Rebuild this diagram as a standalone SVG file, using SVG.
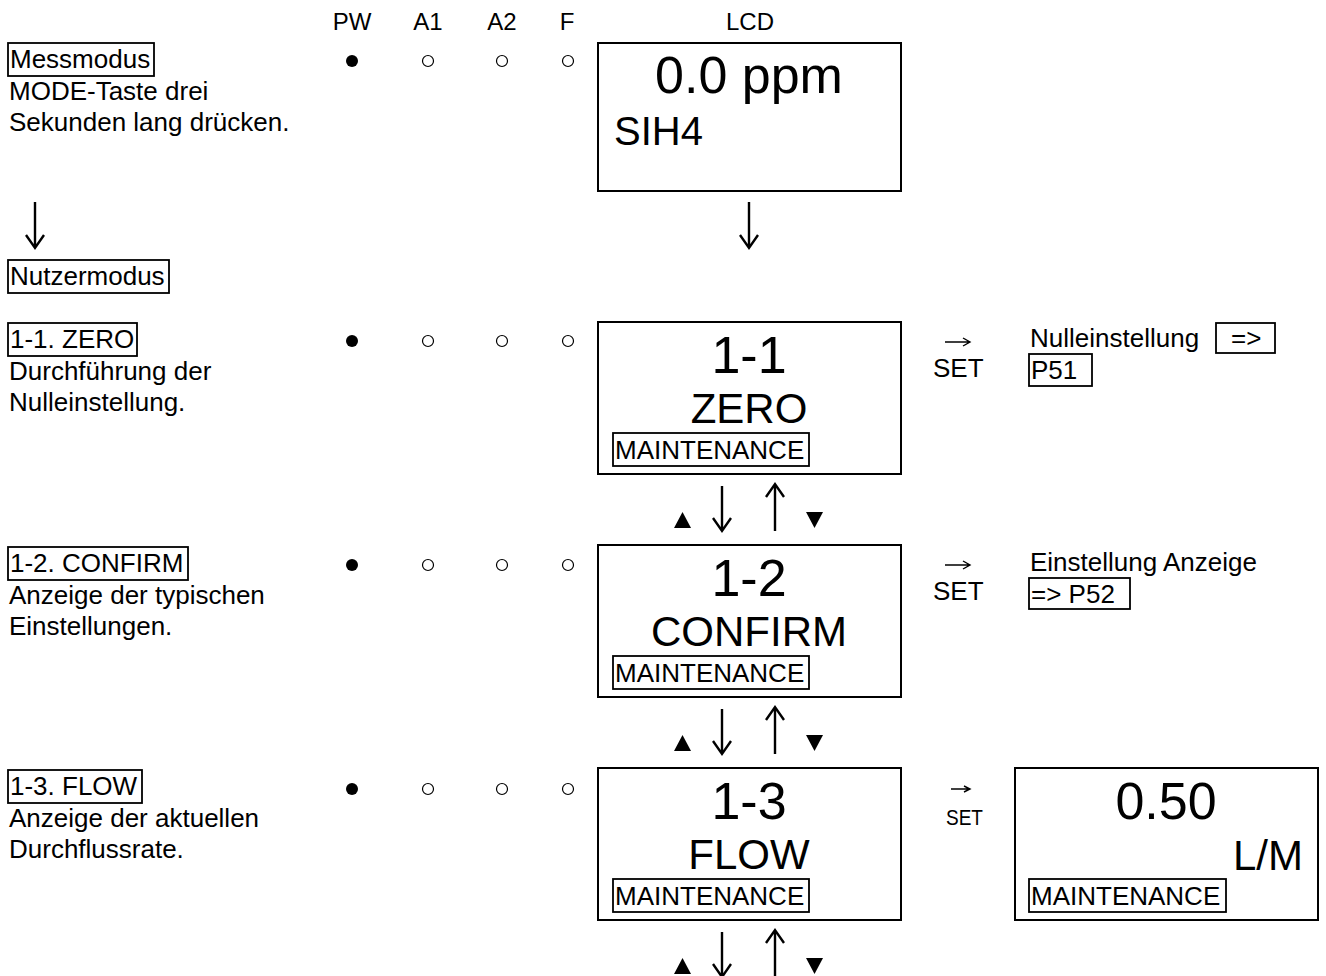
<svg xmlns="http://www.w3.org/2000/svg" width="1326" height="976" viewBox="0 0 1326 976">
<style>
text{font-family:"Liberation Sans",Arial,sans-serif;fill:#000}
.t{font-size:26px}
.h{font-size:24px;text-anchor:middle}
.big{font-size:52px;text-anchor:middle}
.mid{font-size:42px;text-anchor:middle}
.lcd{fill:#fff;stroke:#000;stroke-width:2}
.lb{fill:none;stroke:#000;stroke-width:1.8}
.arr{fill:none;stroke:#000;stroke-width:2.4}
.sarr{fill:none;stroke:#000;stroke-width:1.4}
.on{fill:#000}
.off{fill:none;stroke:#000;stroke-width:1.2}
</style>
<rect width="1326" height="976" fill="#fff"/>
<g id="header">
<text class="h" x="352" y="30">PW</text>
<text class="h" x="428" y="30">A1</text>
<text class="h" x="502" y="30">A2</text>
<text class="h" x="567" y="30">F</text>
<text class="h" x="750" y="30">LCD</text>
</g>
<g id="messmodus">
<rect class="lb" x="8" y="43" width="146" height="33"/>
<text class="t" x="10" y="68">Messmodus</text>
<text class="t" x="9" y="100">MODE-Taste drei</text>
<text class="t" x="9" y="131">Sekunden lang drücken.</text>
<circle class="on" cx="352" cy="61" r="6"/>
<circle class="off" cx="428" cy="61" r="5.5"/>
<circle class="off" cx="502" cy="61" r="5.5"/>
<circle class="off" cx="568" cy="61" r="5.5"/>
</g>
<g id="lcd-measure">
<rect class="lcd" x="598" y="43" width="303" height="148"/>
<text class="big" x="749" y="93">0.0 ppm</text>
<text x="614" y="145" style="font-size:40px">SIH4</text>
</g>
<g id="nutzermodus">
<rect class="lb" x="8" y="260" width="161" height="33"/>
<text class="t" x="10" y="285">Nutzermodus</text>
</g>
<g id="row-1-1">
<rect class="lb" x="8" y="323" width="129" height="33"/>
<text class="t" x="10" y="348">1-1. ZERO</text>
<text class="t" x="9" y="380">Durchführung der</text>
<text class="t" x="9" y="411">Nulleinstellung.</text>
<circle class="on" cx="352" cy="341" r="6"/>
<circle class="off" cx="428" cy="341" r="5.5"/>
<circle class="off" cx="502" cy="341" r="5.5"/>
<circle class="off" cx="568" cy="341" r="5.5"/>
</g>
<g id="lcd-1-1">
<rect class="lcd" x="598" y="322" width="303" height="152"/>
<text class="big" x="749" y="373">1-1</text>
<text class="mid" x="749" y="423">ZERO</text>
<rect class="lb" x="613" y="433" width="196" height="33"/>
<text class="t" x="615" y="459">MAINTENANCE</text>
</g>
<g id="set-1-1">
<text class="t" x="933" y="377">SET</text>
<text class="t" x="1030" y="347">Nulleinstellung</text>
<rect class="lb" x="1216" y="323" width="59" height="30"/>
<text class="t" x="1231" y="347">=&gt;</text>
<rect class="lb" x="1029" y="354" width="63" height="32"/>
<text class="t" x="1031" y="379">P51</text>
</g>
<g id="row-1-2">
<rect class="lb" x="8" y="547" width="180" height="33"/>
<text class="t" x="10" y="572">1-2. CONFIRM</text>
<text class="t" x="9" y="604">Anzeige der typischen</text>
<text class="t" x="9" y="635">Einstellungen.</text>
<circle class="on" cx="352" cy="565" r="6"/>
<circle class="off" cx="428" cy="565" r="5.5"/>
<circle class="off" cx="502" cy="565" r="5.5"/>
<circle class="off" cx="568" cy="565" r="5.5"/>
</g>
<g id="lcd-1-2">
<rect class="lcd" x="598" y="545" width="303" height="152"/>
<text class="big" x="749" y="596">1-2</text>
<text class="mid" x="749" y="646">CONFIRM</text>
<rect class="lb" x="613" y="656" width="196" height="33"/>
<text class="t" x="615" y="682">MAINTENANCE</text>
</g>
<g id="set-1-2">
<text class="t" x="933" y="600">SET</text>
<text class="t" x="1030" y="571">Einstellung Anzeige</text>
<rect class="lb" x="1029" y="578" width="101" height="31"/>
<text class="t" x="1031" y="603">=&gt; P52</text>
</g>
<g id="row-1-3">
<rect class="lb" x="8" y="770" width="134" height="33"/>
<text class="t" x="10" y="795">1-3. FLOW</text>
<text class="t" x="9" y="827">Anzeige der aktuellen</text>
<text class="t" x="9" y="858">Durchflussrate.</text>
<circle class="on" cx="352" cy="789" r="6"/>
<circle class="off" cx="428" cy="789" r="5.5"/>
<circle class="off" cx="502" cy="789" r="5.5"/>
<circle class="off" cx="568" cy="789" r="5.5"/>
</g>
<g id="lcd-1-3">
<rect class="lcd" x="598" y="768" width="303" height="152"/>
<text class="big" x="749" y="819">1-3</text>
<text class="mid" x="749" y="869">FLOW</text>
<rect class="lb" x="613" y="879" width="196" height="33"/>
<text class="t" x="615" y="905">MAINTENANCE</text>
</g>
<g id="set-1-3">
<text x="946" y="825" style="font-size:22px" textLength="37" lengthAdjust="spacingAndGlyphs">SET</text>
</g>
<g id="lcd-flow">
<rect class="lcd" x="1015" y="768" width="303" height="152"/>
<text class="big" x="1166" y="819">0.50</text>
<text x="1303" y="870" style="font-size:42px;text-anchor:end">L/M</text>
<rect class="lb" x="1029" y="879" width="197" height="33"/>
<text class="t" x="1031" y="905">MAINTENANCE</text>
</g>
<g id="connectors">
<path class="arr" d="M35 202V248M26 235L35 248L44 235"/>
<path class="arr" d="M749 202V248M740 235L749 248L758 235"/>
<path class="sarr" d="M945 342H970M963 338L970 342L963 346"/>
<path class="sarr" d="M945 565H970M963 561L970 565L963 569"/>
<path class="sarr" d="M951 789H970M964 786L970 789L964 792"/>
<g id="nav-1">
<polygon points="674,528 691,528 682.5,512"/>
<path class="arr" d="M722 486V531M713 518L722 531L731 518"/>
<path class="arr" d="M775 531V484M766 497L775 484L784 497"/>
<polygon points="806,512 823,512 814.5,528"/>
</g>
<g id="nav-2">
<polygon points="674,751 691,751 682.5,735"/>
<path class="arr" d="M722 709V754M713 741L722 754L731 741"/>
<path class="arr" d="M775 754V707M766 720L775 707L784 720"/>
<polygon points="806,735 823,735 814.5,751"/>
</g>
<g id="nav-3">
<polygon points="674,974 691,974 682.5,958"/>
<path class="arr" d="M722 932V977M713 964L722 977L731 964"/>
<path class="arr" d="M775 977V930M766 943L775 930L784 943"/>
<polygon points="806,958 823,958 814.5,974"/>
</g>
</g>
</svg>
